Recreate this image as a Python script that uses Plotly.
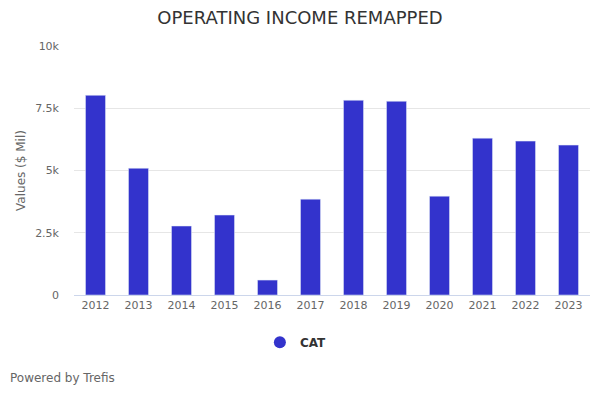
import plotly.graph_objects as go

years = ["2012", "2013", "2014", "2015", "2016", "2017", "2018", "2019", "2020", "2021", "2022", "2023"]
cat_values = [8020, 5090, 2770, 3210, 600, 3850, 7820, 7780, 3970, 6300, 6180, 6020]
y_tick_vals = [0, 2500, 5000, 7500, 10000]
y_tick_text = ["0", "2.5k", "5k", "7.5k", "10k"]

BAR = "#3333cc"
FONT = "DejaVu Sans"

fig = go.Figure()
fig.add_trace(go.Bar(x=years, y=cat_values, marker_color=BAR, showlegend=False, name="CAT"))
fig.add_trace(go.Scatter(x=[None], y=[None], mode="markers", name="<b>CAT</b>",
                         marker=dict(symbol="circle", size=12, color=BAR)))

fig.update_layout(
    width=600, height=400,
    paper_bgcolor="white", plot_bgcolor="white",
    margin=dict(l=74, r=10, t=46, b=105),
    font=dict(family=FONT, color="#666666", size=11),
    title=dict(text="OPERATING INCOME REMAPPED", x=0.5, xanchor="center", y=0.955, yanchor="middle",
               font=dict(family=FONT, size=18, color="#333333")),
    bargap=0.535,
    showlegend=True,
    legend=dict(orientation="h", x=0.43, xanchor="center", y=-0.19, yanchor="middle",
                font=dict(family=FONT, size=12, color="#333333"), itemwidth=30),
    xaxis=dict(type="category", showgrid=False, showline=True, linecolor="#ccd6eb", linewidth=1,
               ticks="", tickfont=dict(size=11, color="#666666"), fixedrange=True),
    yaxis=dict(range=[0, 10000], tickvals=y_tick_vals, ticktext=y_tick_text,
               showgrid=True, gridcolor="#e6e6e6", zeroline=False, showline=False,
               tickfont=dict(size=11, color="#666666"), ticklabelstandoff=14,
               title=dict(text="Values ($ Mil)", font=dict(size=12, color="#666666"), standoff=6)),
    annotations=[dict(text="Powered by Trefis", xref="paper", yref="paper", x=-66/516, y=-83/249,
                      xanchor="left", yanchor="middle", showarrow=False,
                      font=dict(family=FONT, size=12, color="#666666"))],
)

fig.write_html("out.html", config={"displayModeBar": False},
               post_script="document.body.style.margin='0';")
